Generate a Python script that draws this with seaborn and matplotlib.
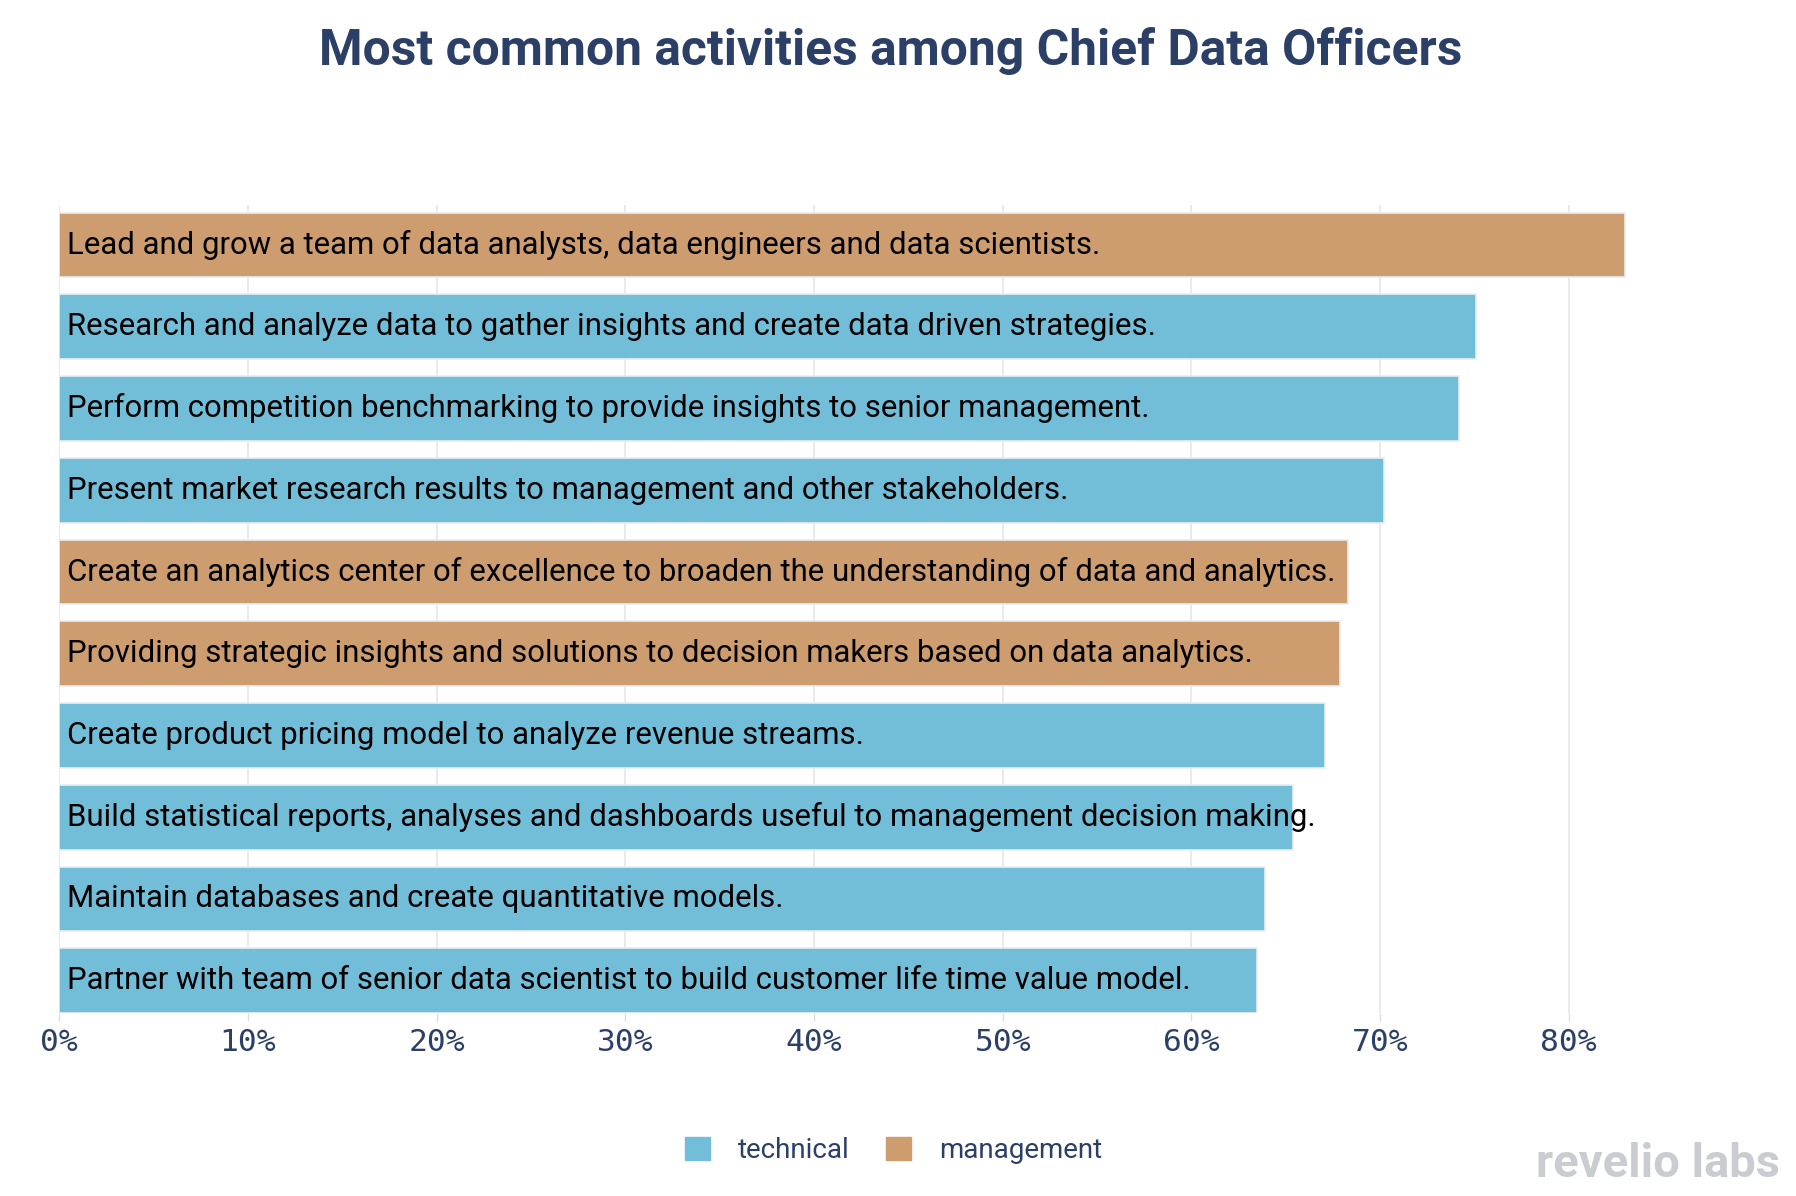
import pandas as pd
import numpy as np
import seaborn as sns
import matplotlib.pyplot as plt
from matplotlib.ticker import FuncFormatter

activities = [
    "Lead and grow a team of data analysts, data engineers and data scientists.",
    "Research and analyze data to gather insights and create data driven strategies.",
    "Perform competition benchmarking to provide insights to senior management.",
    "Present market research results to management and other stakeholders.",
    "Create an analytics center of excellence to broaden the understanding of data and analytics.",
    "Providing strategic insights and solutions to decision makers based on data analytics.",
    "Create product pricing model to analyze revenue streams.",
    "Build statistical reports, analyses and dashboards useful to management decision making.",
    "Maintain databases and create quantitative models.",
    "Partner with team of senior data scientist to build customer life time value model.",
]
share = [83.0, 75.1, 74.2, 70.2, 68.3, 67.9, 67.1, 65.4, 63.9, 63.5]
kind = ["management", "technical", "technical", "technical", "management",
        "management", "technical", "technical", "technical", "technical"]
kinds = ["technical", "management"]
colors = {"technical": "#72bdd8", "management": "#cd9c6f"}
navy = "#2b3f67"

df = pd.DataFrame({"activity": activities, "share": share, "type": kind})

sns.set_theme(style="white")
plt.rcParams['font.family'] = ['Roboto', 'DejaVu Sans']

fig = plt.figure(figsize=(17.96, 11.96), dpi=100)
ax = fig.add_axes([0.033, 0.153, 0.893, 0.676])

sns.barplot(data=df, x="share", y="activity", hue="type", hue_order=kinds,
            palette=colors, saturation=1, dodge=False, orient="h", width=0.79,
            edgecolor="#e8eef3", linewidth=1.2, legend=False, ax=ax, zorder=3)

# activity names written inside the bars
for i, name in enumerate(activities):
    ax.text(0.4, i, name, va="center", ha="left", fontsize=22.4,
            color="black", zorder=4)

ax.set_xlim(0, 85)
ax.set_ylim(9.395, -0.495)
ax.set_xticks(np.arange(0, 90, 10))
ax.xaxis.set_major_formatter(FuncFormatter(lambda v, p: f"{v:.0f}%"))
for lab in ax.get_xticklabels():
    lab.set_fontfamily("DejaVu Sans Mono")
ax.tick_params(axis="x", labelsize=22.5, colors="#dddddd", labelcolor=navy,
               length=6, width=1, pad=5, bottom=True)
ax.set_yticks([])
ax.set_xlabel("")
ax.set_ylabel("")
ax.grid(axis="x", color="#e6e6e6", linewidth=1.2, zorder=0)
for s in ax.spines.values():
    s.set_visible(False)

fig.text(0.496, 0.957, "Most common activities among Chief Data Officers",
         ha="center", va="center", fontsize=35.8, fontweight="bold", color=navy)

# legend
handles = [plt.Rectangle((0, 0), 1, 1, color=colors[k]) for k in kinds]
fig.legend(handles, kinds, loc="center", bbox_to_anchor=(0.4975, 0.038), ncol=2,
           frameon=False, fontsize=20, labelcolor=navy, handlelength=0.9,
           handleheight=0.9, handletextpad=1.0, columnspacing=1.3)

fig.text(0.991, 0.027, "revelio labs", ha="right", va="center", fontsize=34,
         fontweight="bold", color="#c9ccd1")

fig.savefig("out.png", dpi=100)
